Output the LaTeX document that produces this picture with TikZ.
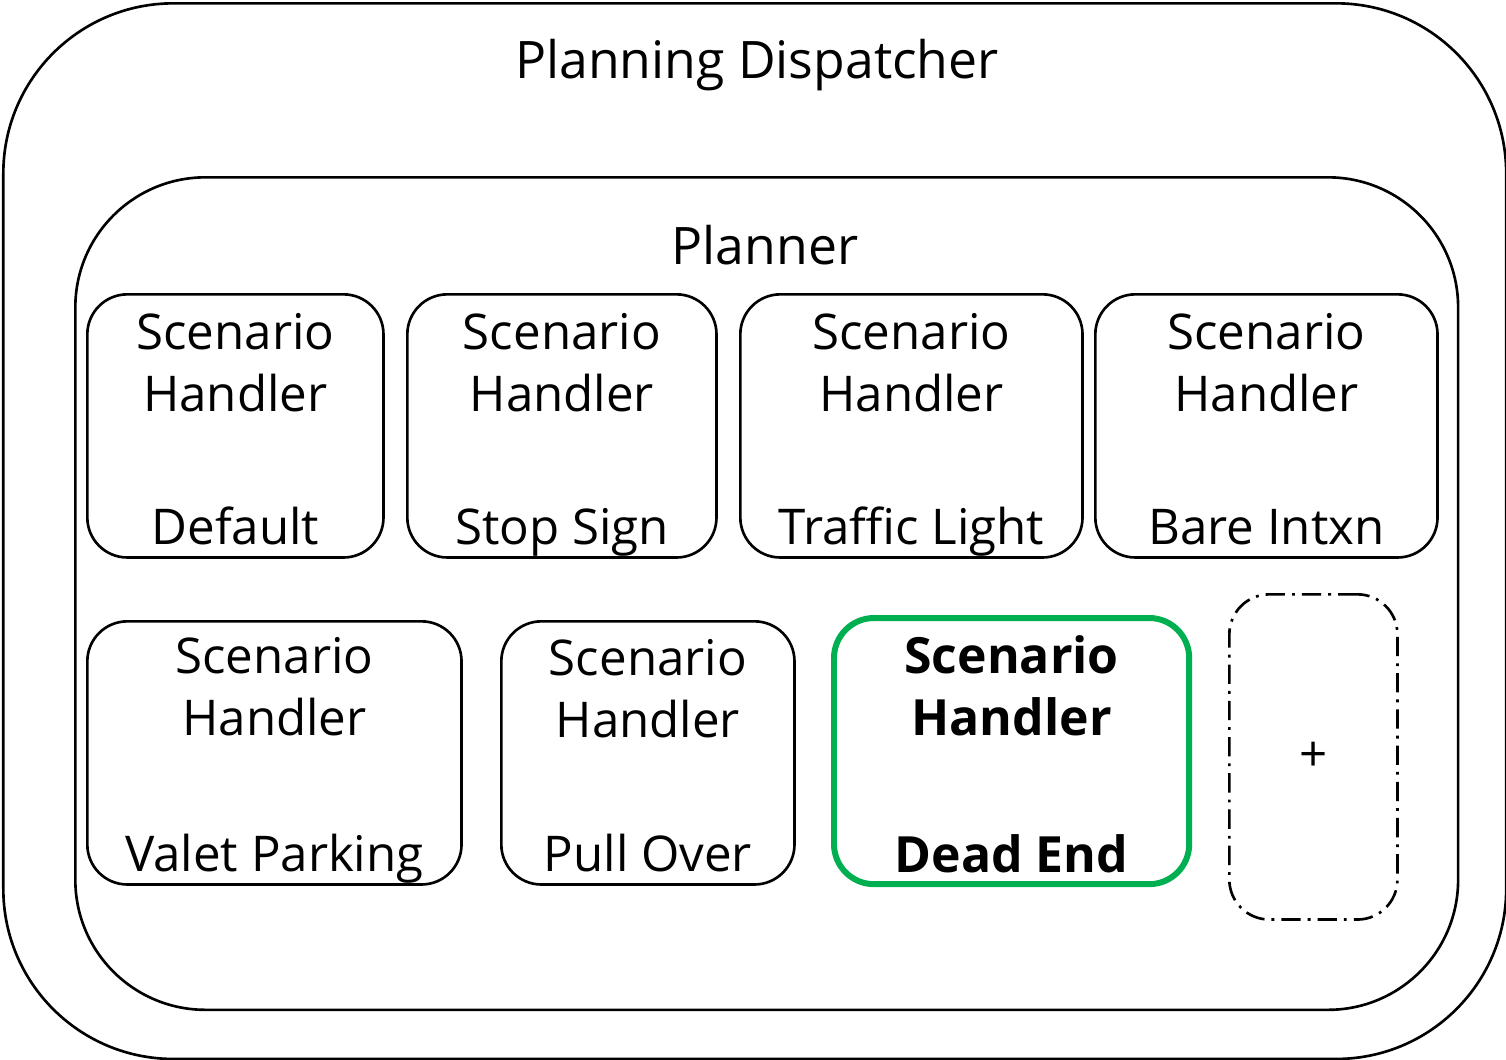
\documentclass[tikz,border=0pt]{standalone}
\usepackage{fontspec}
\setmainfont{Open Sans}
\definecolor{deadgreen}{HTML}{00B050}

\begin{document}
\begin{tikzpicture}[x=0.01cm, y=-0.01cm, line width=0.75pt,
    txt/.style={inner sep=0, anchor=base, font=\fontsize{14}{16}\selectfont},
    bold/.style={txt, font=\fontsize{14.2}{16}\selectfont\bfseries},
    title/.style={txt, font=\fontsize{14.7}{17}\selectfont},
    handler/.style={draw, rounded corners=0.4cm, inner sep=0, anchor=north west},
    big/.style={draw, inner sep=0, anchor=north west}]
\useasboundingbox (0,0) rectangle (1506,1059);
% containers
\node[big, rounded corners=1.7cm, minimum width=15.02cm, minimum height=10.55cm] (dispatcher) at (2,2) {};
\node[big, rounded corners=1.3cm, minimum width=13.82cm, minimum height=8.32cm] (planner) at (74,176) {};
\node[title] (dispatchertitle) at (757,78) {Planning Dispatcher};
\node[title] (plannertitle) at (765,264) {Planner};
% first row
\node[handler, minimum width=2.96cm, minimum height=2.63cm] (default) at (86,293) {};
\node[handler, minimum width=3.09cm, minimum height=2.63cm] (stopsign) at (406,293) {};
\node[handler, minimum width=3.42cm, minimum height=2.63cm] (trafficlight) at (739,293) {};
\node[handler, minimum width=3.42cm, minimum height=2.63cm] (bareintxn) at (1094,293) {};
% second row
\node[handler, minimum width=3.74cm, minimum height=2.63cm] (valetparking) at (86,620) {};
\node[handler, minimum width=2.93cm, minimum height=2.63cm] (pullover) at (500,620) {};
\node[handler, draw=deadgreen, line width=1.7pt, minimum width=3.55cm, minimum height=2.66cm] (deadend) at (831,615) {};
\node[handler, dash pattern=on 5.5pt off 2pt on 0.8pt off 2pt, minimum width=1.68cm, minimum height=3.25cm] (more) at (1228,593) {};
\node[txt, anchor=center] (plus) at (more.center) {+};
% texts
\foreach \hname/\hlabel/\hup in {default/Default/56, stopsign/Stop Sign/56, trafficlight/Traffic Light/56,
    bareintxn/Bare Intxn/56, valetparking/Valet Parking/53, pullover/Pull Over/55}{
  \path (\hname.north) ++(0,\hup) node[txt] {Scenario} ++(0,62) node[txt] {Handler};
  \path (\hname.south) ++(0,-14) node[txt] {\hlabel};
}
\path (deadend.north) ++(0,58) node[bold] {Scenario} ++(0,62) node[bold] {Handler};
\path (deadend.south) ++(0,-15) node[bold] {Dead End};
\end{tikzpicture}
\end{document}
